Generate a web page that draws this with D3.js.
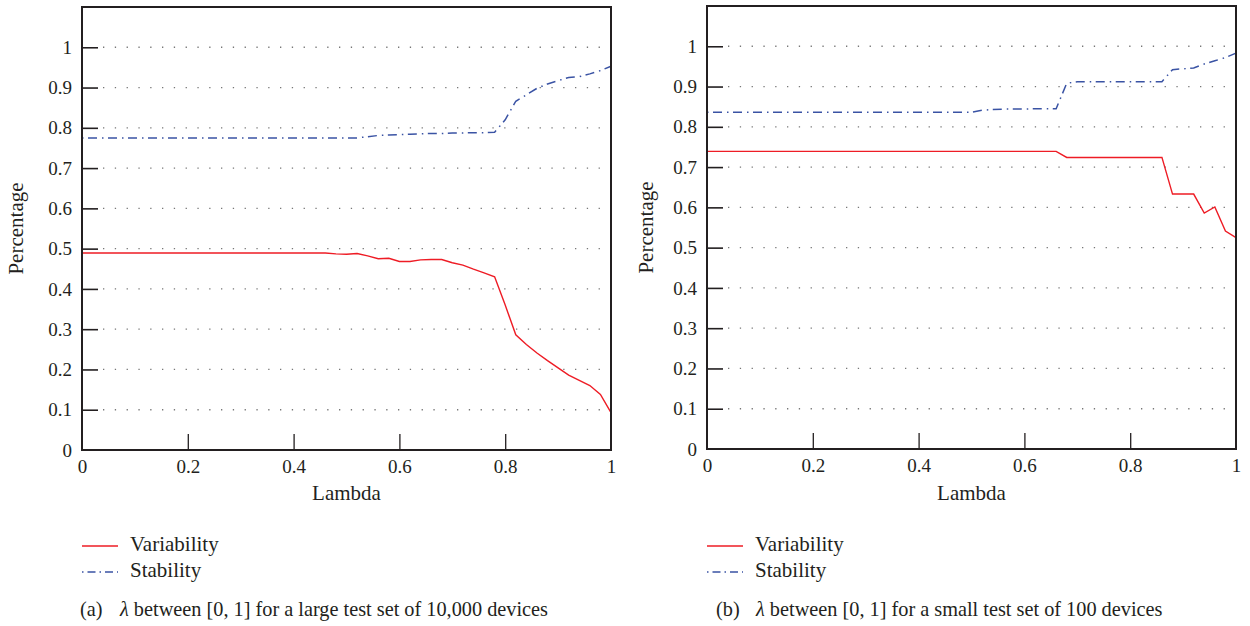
<!DOCTYPE html>
<html>
<head>
<meta charset="utf-8">
<script src="https://cdn.jsdelivr.net/npm/d3@7"></script>
<style>
  body { margin: 0; background: #fff; }
  svg text { font-family: "Liberation Serif", "DejaVu Serif", serif; fill: #231f20; }
</style>
</head>
<body>
<div id="chart"></div>
<script>
// lambda values (x axis), shared by both panels
var lambdas = [0, 0.02, 0.04, 0.06, 0.08, 0.1, 0.12, 0.14, 0.16, 0.18,
  0.2, 0.22, 0.24, 0.26, 0.28, 0.3, 0.32, 0.34, 0.36, 0.38,
  0.4, 0.42, 0.44, 0.46, 0.48, 0.5, 0.52, 0.54, 0.56, 0.58,
  0.6, 0.62, 0.64, 0.66, 0.68, 0.7, 0.72, 0.74, 0.76, 0.78,
  0.8, 0.82, 0.84, 0.86, 0.88, 0.9, 0.92, 0.94, 0.96, 0.98, 1];

// (a) large test set of 10,000 devices
var largeVariability = [0.489, 0.489, 0.489, 0.489, 0.489, 0.489, 0.489, 0.489, 0.489, 0.489,
  0.489, 0.489, 0.489, 0.489, 0.489, 0.489, 0.489, 0.489, 0.489, 0.489,
  0.489, 0.489, 0.489, 0.489, 0.487, 0.486, 0.488, 0.482, 0.475, 0.476,
  0.468, 0.468, 0.472, 0.473, 0.473, 0.465, 0.459, 0.449, 0.440, 0.430,
  0.360, 0.286, 0.262, 0.241, 0.222, 0.204, 0.186, 0.173, 0.160, 0.138, 0.093];
var largeStability = [0.775, 0.775, 0.775, 0.775, 0.775, 0.775, 0.775, 0.775, 0.775, 0.775,
  0.775, 0.775, 0.775, 0.775, 0.775, 0.775, 0.775, 0.775, 0.775, 0.775,
  0.775, 0.775, 0.775, 0.775, 0.775, 0.775, 0.775, 0.778, 0.781, 0.782,
  0.783, 0.784, 0.785, 0.786, 0.786, 0.787, 0.787, 0.788, 0.788, 0.789,
  0.820, 0.866, 0.882, 0.898, 0.909, 0.917, 0.925, 0.927, 0.934, 0.942, 0.953];

// (b) small test set of 100 devices
var smallVariability = [0.739, 0.739, 0.739, 0.739, 0.739, 0.739, 0.739, 0.739, 0.739, 0.739,
  0.739, 0.739, 0.739, 0.739, 0.739, 0.739, 0.739, 0.739, 0.739, 0.739,
  0.739, 0.739, 0.739, 0.739, 0.739, 0.739, 0.739, 0.739, 0.739, 0.739,
  0.739, 0.739, 0.739, 0.739, 0.724, 0.724, 0.724, 0.724, 0.724, 0.724,
  0.724, 0.724, 0.724, 0.724, 0.633, 0.633, 0.633, 0.586, 0.601, 0.541, 0.525];
var smallStability = [0.836, 0.836, 0.836, 0.836, 0.836, 0.836, 0.836, 0.836, 0.836, 0.836,
  0.836, 0.836, 0.836, 0.836, 0.836, 0.836, 0.836, 0.836, 0.836, 0.836,
  0.836, 0.836, 0.836, 0.836, 0.836, 0.836, 0.841, 0.843, 0.844, 0.844,
  0.844, 0.845, 0.845, 0.845, 0.908, 0.912, 0.912, 0.912, 0.912, 0.912,
  0.912, 0.912, 0.912, 0.912, 0.942, 0.944, 0.946, 0.956, 0.964, 0.972, 0.983];

var xTicks = [0, 0.2, 0.4, 0.6, 0.8, 1];
var yTicks = [0, 0.1, 0.2, 0.3, 0.4, 0.5, 0.6, 0.7, 0.8, 0.9, 1];
var seriesNames = ["Variability", "Stability"];

var red = "#ee1c25", blue = "#3a53a4";
var serif = "'Liberation Serif', 'DejaVu Serif', serif";

var svg = d3.select("#chart").append("svg")
    .attr("width", 1250)
    .attr("height", 626);

var fmt = function(d) { return (d === 0 || d === 1) ? String(d) : d.toFixed(1); };

function drawPanel(left, top, ylabOffset, capShift, varData, stabData, tag, caption) {
  var width = 529, height = 443;
  var g = svg.append("g").attr("transform", "translate(" + left + "," + top + ")");

  var x = d3.scaleLinear().domain([0, 1]).range([0, width]);
  var y = d3.scaleLinear().domain([0, 1.1]).range([height, 0]);

  // dotted horizontal grid
  g.append("g").selectAll("line")
    .data(yTicks.filter(function(d) { return d > 0; }))
    .join("line")
      .attr("x1", 21).attr("x2", width)
      .attr("y1", function(d) { return y(d); })
      .attr("y2", function(d) { return y(d); })
      .attr("stroke", "#777")
      .attr("stroke-width", 1.3)
      .attr("stroke-dasharray", "1.3,10.5");

  // inward ticks
  g.append("g")
    .attr("transform", "translate(0," + height + ")")
    .call(d3.axisBottom(x).tickValues(xTicks).tickSizeInner(-16).tickSizeOuter(0).tickPadding(10).tickFormat(fmt))
    .call(function(a) {
      a.attr("font-family", serif);
      a.select(".domain").remove();
      a.selectAll(".tick line").attr("stroke", "#231f20").attr("stroke-width", 1.3)
        .filter(function(d) { return d === 0 || d === 1; }).remove();
      a.selectAll("text").attr("font-size", 19).attr("fill", "#231f20");
    });

  g.append("g")
    .call(d3.axisLeft(y).tickValues(yTicks).tickSizeInner(-16).tickSizeOuter(0).tickPadding(10).tickFormat(fmt))
    .call(function(a) {
      a.attr("font-family", serif);
      a.select(".domain").remove();
      a.selectAll(".tick line").attr("stroke", "#231f20").attr("stroke-width", 1.6)
        .filter(function(d) { return d === 0; }).remove();
      a.selectAll("text").attr("font-size", 19).attr("fill", "#231f20");
    });

  var line = d3.line()
    .x(function(d, i) { return x(lambdas[i]); })
    .y(function(d) { return y(d); });

  g.append("path").datum(stabData)
    .attr("fill", "none").attr("stroke", blue).attr("stroke-width", 1.5)
    .attr("stroke-dasharray", "1.5,4.5,9,5")
    .attr("d", line);

  g.append("path").datum(varData)
    .attr("fill", "none").attr("stroke", red).attr("stroke-width", 1.4)
    .attr("d", line);

  // frame
  g.append("rect")
    .attr("width", width).attr("height", height)
    .attr("fill", "none").attr("stroke", "#231f20").attr("stroke-width", 2);

  g.append("text")
    .attr("x", width / 2).attr("y", 495 - top)
    .attr("text-anchor", "middle").attr("dominant-baseline", "middle")
    .attr("font-size", 21)
    .text("Lambda");

  g.append("text")
    .attr("transform", "translate(" + (-ylabOffset) + "," + (height / 2) + ") rotate(-90)")
    .attr("text-anchor", "middle").attr("dominant-baseline", "middle")
    .attr("font-size", 21)
    .text("Percentage");

  // legend
  var leg = g.append("g").attr("transform", "translate(0," + (546 - top) + ")");
  seriesNames.forEach(function(name, i) {
    leg.append("line")
      .attr("x1", 0).attr("x2", 36)
      .attr("y1", i * 26).attr("y2", i * 26)
      .attr("stroke", i === 0 ? red : blue)
      .attr("stroke-width", 1.3)
      .attr("stroke-dasharray", i === 0 ? null : "1.5,4,8,4");
    leg.append("text")
      .attr("x", 48).attr("y", i * 26)
      .attr("dominant-baseline", "middle")
      .attr("font-size", 21)
      .text(name);
  });

  var cap = g.append("text")
    .attr("x", capShift - 2).attr("y", 611 - top)
    .attr("dominant-baseline", "middle")
    .attr("font-size", 20.3);
  cap.append("tspan").text(tag);
  cap.append("tspan").attr("x", capShift + 38).attr("font-style", "italic").text("\u03bb");
  cap.append("tspan").text(caption);
}

drawPanel(82, 7, 64, 0, largeVariability, largeStability, "(a)",
  " between [0, 1] for a large test set of 10,000 devices");
drawPanel(707, 6, 59, 11, smallVariability, smallStability, "(b)",
  " between [0, 1] for a small test set of 100 devices");
</script>
</body>
</html>
